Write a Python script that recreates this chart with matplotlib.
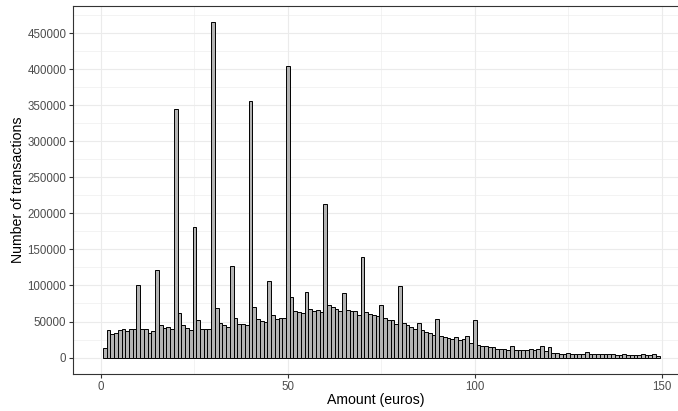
import matplotlib
matplotlib.use("Agg")
import matplotlib.pyplot as plt
from matplotlib.ticker import MultipleLocator, FixedLocator

amounts = list(range(1, 150))
counts = [
    13500, 38500, 32000, 34500, 38500, 39000, 36500, 39000, 39000, 101000,
    39000, 40000, 33500, 37000, 121500, 45000, 40500, 42000, 40000, 345000,
    62000, 45000, 41000, 38500, 181500, 51500, 39000, 39000, 39000, 465000,
    69000, 48500, 45000, 43000, 127000, 55500, 47000, 47000, 45500, 355500,
    69500, 54000, 50500, 50000, 106500, 59500, 54000, 55500, 55000, 404000,
    83500, 65000, 63500, 61500, 91000, 68000, 65000, 66500, 63000, 212500,
    73500, 69500, 67000, 65000, 89500, 66500, 65000, 65000, 59500, 140000,
    63500, 61000, 58500, 57000, 72500, 55500, 52500, 51500, 47000, 99500,
    47500, 45000, 43000, 40000, 48500, 38000, 36000, 34500, 31000, 53500,
    30500, 29000, 27500, 26000, 29000, 24000, 25500, 30000, 20000, 52500,
    18000, 16500, 15500, 14000, 15000, 12500, 12500, 11500, 11000, 15500,
    11000, 10500, 10000, 10000, 12000, 10000, 11500, 16500, 9000, 14500,
    6000, 5800, 5600, 5500, 6500, 5300, 5200, 5100, 5000, 7500,
    4800, 4700, 4600, 4500, 5200, 4400, 4300, 4200, 4100, 5200,
    4000, 3900, 3900, 3800, 4300, 3700, 3700, 5500, 2000,
]
x_ticks = [0, 50, 100, 150]
y_ticks = list(range(0, 450001, 50000))

plt.rcParams['font.family'] = ['Liberation Sans', 'DejaVu Sans']

W, H = 678, 411
fig = plt.figure(figsize=(W / 100, H / 100), dpi=100)
left, right, bottom, top = 73.3, 678, 374.3, 5.7
ax = fig.add_axes([left / W, 1 - bottom / H, (right - left) / W, (bottom - top) / H])

ax.bar(amounts, counts, width=1.0, color='#b3b3b3', edgecolor='black',
       linewidth=0.7, zorder=3)

ax.set_xlim(-7.41, 154.4)
ax.set_ylim(-23250, 488250)

ax.xaxis.set_major_locator(FixedLocator(x_ticks))
ax.xaxis.set_minor_locator(MultipleLocator(25))
ax.yaxis.set_major_locator(FixedLocator(y_ticks))
ax.yaxis.set_minor_locator(MultipleLocator(25000))
ax.set_xticklabels([str(t) for t in x_ticks])
ax.set_yticklabels([str(t) for t in y_ticks])

ax.grid(which='major', color='#ebebeb', linewidth=0.8, zorder=0)
ax.grid(which='minor', color='#ebebeb', linewidth=0.4, zorder=0)
ax.set_axisbelow(True)

for s in ['left', 'bottom', 'top']:
    ax.spines[s].set_color('#333333')
    ax.spines[s].set_linewidth(0.8)
ax.spines['right'].set_visible(False)

ax.tick_params(which='major', length=3, width=0.8, color='#333333',
               labelsize=8.3, labelcolor='#4d4d4d', pad=2)
ax.tick_params(which='minor', length=0)

ax.set_xlabel('Amount (euros)', fontsize=10.2, color='black', labelpad=0)
ax.set_ylabel('Number of transactions', fontsize=10.2, color='black', labelpad=1.5)

fig.savefig('out.png', dpi=100)
